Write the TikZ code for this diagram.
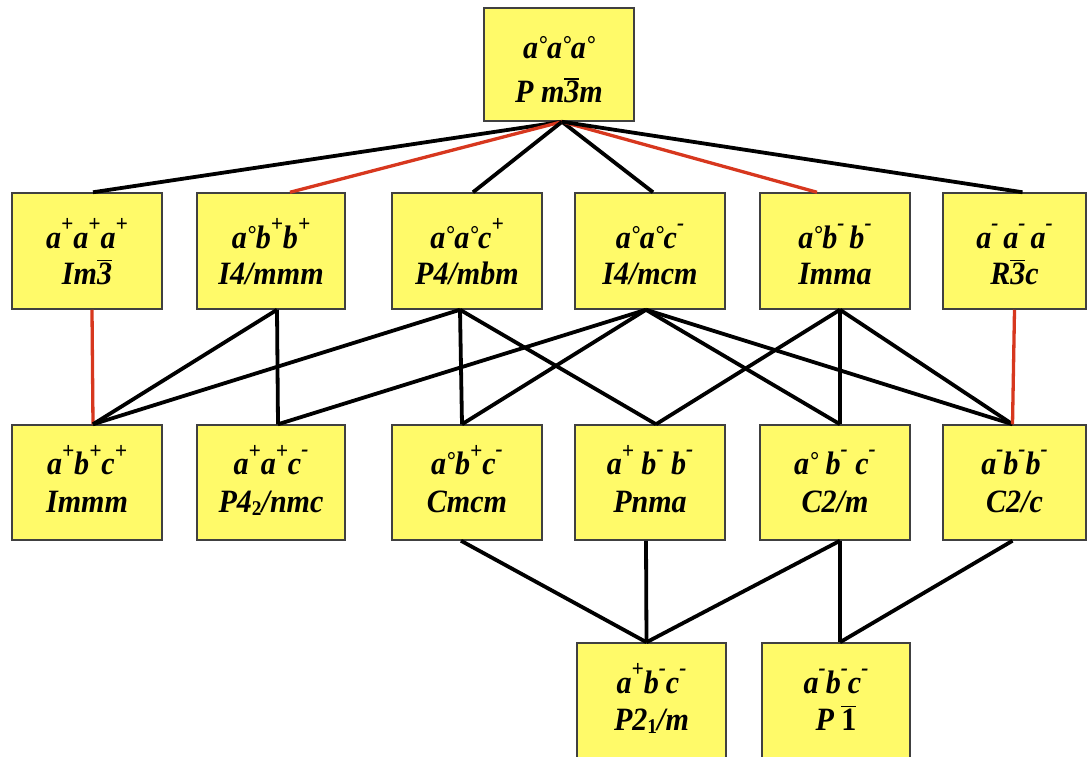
\documentclass[tikz,border=0pt]{standalone}
\usepackage{fontspec}
\setmainfont{Liberation Serif}
\usepackage{graphicx}
\definecolor{boxyellow}{RGB}{255,250,105}
\definecolor{linkred}{RGB}{215,55,30}
\newcommand\tx[1]{\scalebox{0.97}[1.05]{\fontsize{31}{31}\selectfont\bfseries\itshape #1}}
\newcommand\gp{\raisebox{0.5em}{\fontsize{22}{22}\selectfont +}}
\newcommand\gm{\raisebox{0.55em}{\fontsize{22}{22}\selectfont -}}
\newcommand\gz{\raisebox{0.18em}{\fontsize{23}{23}\selectfont °}}
\newcommand\ovl[1]{\leavevmode\vbox{\hrule height 1.4pt\kern1.2pt\hbox{#1}}}
\newcommand\sbs[1]{\raisebox{-0.1em}{\fontsize{20}{20}\selectfont\upshape #1}}
\begin{document}
\begin{tikzpicture}[x=1pt,y=-1pt,
  box/.style={draw=black!75, line width=1.5pt, fill=boxyellow, minimum width=150pt, minimum height=115pt, inner sep=0pt},
  txt/.style={anchor=base, inner sep=0pt},
  blk/.style={draw=black, line width=3.8pt, line join=round},
  rdl/.style={draw=linkred, line width=3.3pt, line join=round}]
\useasboundingbox (0,0) rectangle (1089,756);
\clip (0,0) rectangle (1089,756);
% top
\node[box, minimum height=113pt] (t0) at (559,64.5) {};
\node[txt] (t0g) at ([yshift=6pt]t0.center) {\tx{a\gz a\gz a\gz}};
\node[txt] (t0s) at ([yshift=-38pt]t0.center) {\tx{P m\ovl{3}m}};
% row 1
\node[box, minimum height=116pt] (n1a) at (87,251) {};
\node[box, minimum height=116pt, minimum width=148pt] (n1b) at (271,251) {};
\node[box, minimum height=116pt] (n1c) at (467,251) {};
\node[box, minimum height=116pt] (n1d) at (650,251) {};
\node[box, minimum height=116pt] (n1e) at (835,251) {};
\node[box, minimum height=116pt, minimum width=143pt] (n1f) at (1014.5,251) {};
\node[txt] (n1ag) at ([yshift=3pt]n1a.center) {\tx{a\gp a\gp a\gp}};
\node[txt] (n1as) at ([yshift=-33pt]n1a.center) {\tx{Im\ovl{3}}};
\node[txt] (n1bg) at ([yshift=3pt]n1b.center) {\tx{a\gz b\gp b\gp}};
\node[txt] (n1bs) at ([yshift=-33pt]n1b.center) {\tx{I4/mmm}};
\node[txt] (n1cg) at ([yshift=3pt]n1c.center) {\tx{a\gz a\gz c\gp}};
\node[txt] (n1cs) at ([yshift=-33pt]n1c.center) {\tx{P4/mbm}};
\node[txt] (n1dg) at ([yshift=3pt]n1d.center) {\tx{a\gz a\gz c\gm}};
\node[txt] (n1ds) at ([yshift=-33pt]n1d.center) {\tx{I4/mcm}};
\node[txt] (n1eg) at ([yshift=3pt]n1e.center) {\tx{a\gz b\gm\,b\gm}};
\node[txt] (n1es) at ([yshift=-33pt]n1e.center) {\tx{Imma}};
\node[txt] (n1fg) at ([yshift=3pt]n1f.center) {\tx{a\gm\,a\gm\,a\gm}};
\node[txt] (n1fs) at ([yshift=-33pt]n1f.center) {\tx{R\ovl{3}c}};
% row 2
\node[box] (n2a) at (87,482.5) {};
\node[box, minimum width=148pt] (n2b) at (271,482.5) {};
\node[box] (n2c) at (467,482.5) {};
\node[box] (n2d) at (650,482.5) {};
\node[box] (n2e) at (835,482.5) {};
\node[box, minimum width=143pt] (n2f) at (1014.5,482.5) {};
\node[txt] (n2ag) at ([yshift=8pt]n2a.center) {\tx{a\gp b\gp c\gp}};
\node[txt] (n2as) at ([yshift=-30pt]n2a.center) {\tx{Immm}};
\node[txt] (n2bg) at ([yshift=8pt]n2b.center) {\tx{a\gp a\gp c\gm}};
\node[txt] (n2bs) at ([yshift=-30pt]n2b.center) {\tx{P4\sbs{2}/nmc}};
\node[txt] (n2cg) at ([yshift=8pt]n2c.center) {\tx{a\gz b\gp c\gm}};
\node[txt] (n2cs) at ([yshift=-30pt]n2c.center) {\tx{Cmcm}};
\node[txt] (n2dg) at ([yshift=8pt]n2d.center) {\tx{a\gp\ b\gm\ b\gm}};
\node[txt] (n2ds) at ([yshift=-30pt]n2d.center) {\tx{Pnma}};
\node[txt] (n2eg) at ([yshift=8pt]n2e.center) {\tx{a\gz\ b\gm\ c\gm}};
\node[txt] (n2es) at ([yshift=-30pt]n2e.center) {\tx{C2/m}};
\node[txt] (n2fg) at ([yshift=8pt]n2f.center) {\tx{a\gm b\gm b\gm}};
\node[txt] (n2fs) at ([yshift=-30pt]n2f.center) {\tx{C2/c}};
% row 3
\node[box, minimum height=116pt, minimum width=149pt] (n3a) at (651.5,701) {};
\node[box, minimum height=116pt, minimum width=148pt] (n3b) at (836,701) {};
\node[txt] (n3ag) at ([yshift=8pt]n3a.center) {\tx{a\gp b\gm c\gm}};
\node[txt] (n3as) at ([yshift=-29pt]n3a.center) {\tx{P2\sbs{1}/m}};
\node[txt] (n3bg) at ([yshift=8pt]n3b.center) {\tx{a\gm b\gm c\gm}};
\node[txt] (n3bs) at ([yshift=-29pt]n3b.center) {\tx{P \ovl{\upshape 1}}};
% attachment points
\coordinate (t0b) at ([xshift=3pt]t0.south);
\coordinate (n1at) at ([xshift=6pt]n1a.north);
\coordinate (n1bt) at ([xshift=19pt]n1b.north);
\coordinate (n1ct) at ([xshift=6pt]n1c.north);
\coordinate (n1dt) at ([xshift=3pt]n1d.north);
\coordinate (n1et) at ([xshift=-18pt]n1e.north);
\coordinate (n1ft) at ([xshift=8pt]n1f.north);
\coordinate (n1ab) at ([xshift=5pt]n1a.south);
\coordinate (n1bb) at ([xshift=6pt]n1b.south);
\coordinate (n1cb) at ([xshift=-7pt]n1c.south);
\coordinate (n1db) at ([xshift=-4pt]n1d.south);
\coordinate (n1eb) at ([xshift=5pt]n1e.south);
\coordinate (n1fb) at ([xshift=0pt]n1f.south);
\coordinate (n2at) at ([xshift=6pt]n2a.north);
\coordinate (n2bt) at ([xshift=7pt]n2b.north);
\coordinate (n2ct) at ([xshift=-5pt]n2c.north);
\coordinate (n2dt) at ([xshift=6pt]n2d.north);
\coordinate (n2et) at ([xshift=5pt]n2e.north);
\coordinate (n2ft) at ([xshift=-2pt]n2f.north);
\coordinate (n2cb) at ([xshift=-6pt]n2c.south);
\coordinate (n2db) at ([xshift=-4pt]n2d.south);
\coordinate (n2eb) at ([xshift=5pt]n2e.south);
\coordinate (n2fb) at ([xshift=-2pt]n2f.south);
\coordinate (n3at) at ([xshift=-5pt]n3a.north);
\coordinate (n3bt) at ([xshift=4pt]n3b.north);
% connectors: top to row 1
\draw[blk] (t0b) -- (n1at);
\draw[rdl] (t0b) -- (n1bt);
\draw[blk] (t0b) -- (n1ct);
\draw[blk] (t0b) -- (n1dt);
\draw[rdl] (t0b) -- (n1et);
\draw[blk] (t0b) -- (n1ft);
% row 1 to row 2
\draw[rdl] (n1ab) -- (n2at);
\draw[blk] (n1bb) -- (n2at);
\draw[blk] (n1bb) -- (n2bt);
\draw[blk] (n1cb) -- (n2at);
\draw[blk] (n1cb) -- (n2ct);
\draw[blk] (n1cb) -- (n2dt);
\draw[blk] (n1db) -- (n2bt);
\draw[blk] (n1db) -- (n2ct);
\draw[blk] (n1db) -- (n2et);
\draw[blk] (n1db) -- (n2ft);
\draw[blk] (n1eb) -- (n2dt);
\draw[blk] (n1eb) -- (n2et);
\draw[blk] (n1eb) -- (n2ft);
\draw[rdl] (n1fb) -- (n2ft);
% row 2 to row 3
\draw[blk] (n2cb) -- (n3at);
\draw[blk] (n2db) -- (n3at);
\draw[blk] (n2eb) -- (n3at);
\draw[blk] (n2eb) -- (n3bt);
\draw[blk] (n2fb) -- (n3bt);
\end{tikzpicture}
\end{document}
